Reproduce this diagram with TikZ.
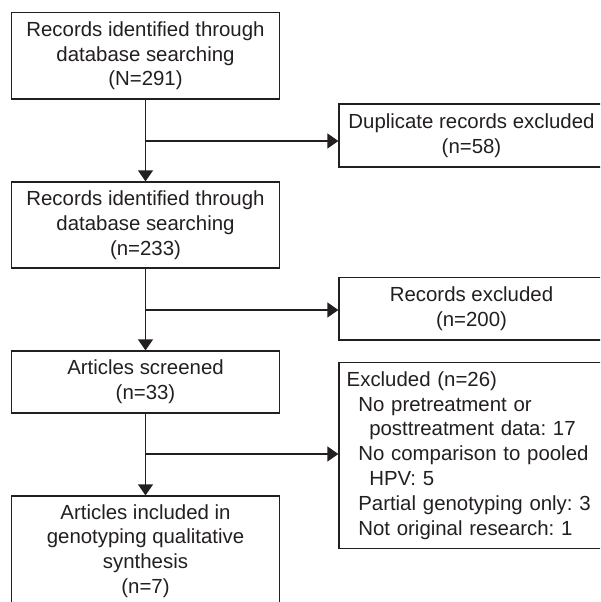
\documentclass[tikz,border=0pt]{standalone}
\usepackage{fontspec}
\setmainfont{Liberation Sans}
\usetikzlibrary{arrows.meta}
\definecolor{ink}{HTML}{231F20}
\frenchspacing
\begin{document}
\begin{tikzpicture}[x=1pt,y=-1pt,
  box/.style={draw=ink, line width=1.3pt, text=ink, align=center, inner sep=0pt,
    font=\fontsize{20.4}{24.8}\selectfont\frenchspacing},
  conn/.style={draw=ink, line width=1.3pt},
  arr/.style={conn, -{Triangle[length=11pt,width=15pt]}}]
\useasboundingbox (0,0) rectangle (600,602);
\clip (0,0) rectangle (600,602);
\fill[white] (0,0) rectangle (600,602);
\node[box, minimum width=267.5pt, minimum height=86.3pt] (b1) at (145.5,55.85)
  {Records identified through\\database searching\\(N=291)};
\node[box, minimum width=267.5pt, minimum height=86pt] (b2) at (145.5,225)
  {Records identified through\\database searching\\(n=233)};
\node[box, minimum width=267.5pt, minimum height=62pt] (b3) at (145.5,382)
  {Articles screened\\(n=33)};
\node[box, minimum width=267.5pt, minimum height=110pt] (b4) at (145.5,551)
  {Articles included in\\genotyping qualitative\\synthesis\\(n=7)};
\node[box, minimum width=265pt, minimum height=63pt] (r1) at (471.5,135.5)
  {Duplicate records excluded\\(n=58)};
\node[box, minimum width=265pt, minimum height=62.7pt] (r2) at (471.5,308.7)
  {Records excluded\\(n=200)};
\node[box, minimum width=265pt, minimum height=185.6pt, text width=249.6pt, align=left] (r3) at (471.5,455.5)
  {Excluded (n=26)\\
   \hspace*{11.6pt}No pretreatment or\\
   \hspace*{22.6pt}posttreatment data: 17\\
   \hspace*{11.6pt}No comparison to pooled\\
   \hspace*{22.6pt}HPV: 5\\
   \hspace*{11.6pt}Partial genotyping only: 3\\
   \hspace*{11.6pt}Not original research: 1};
\coordinate (j1) at (145.5,141);
\coordinate (j2) at (145.5,310);
\coordinate (j3) at (145.5,454);
\draw[arr] (b1) -- (b2);
\draw[arr] (b2) -- (b3);
\draw[arr] (b3) -- (b4);
\draw[arr] (j1) -- (j1 -| r1.west);
\draw[arr] (j2) -- (j2 -| r2.west);
\draw[arr] (j3) -- (j3 -| r3.west);
\end{tikzpicture}
\end{document}
